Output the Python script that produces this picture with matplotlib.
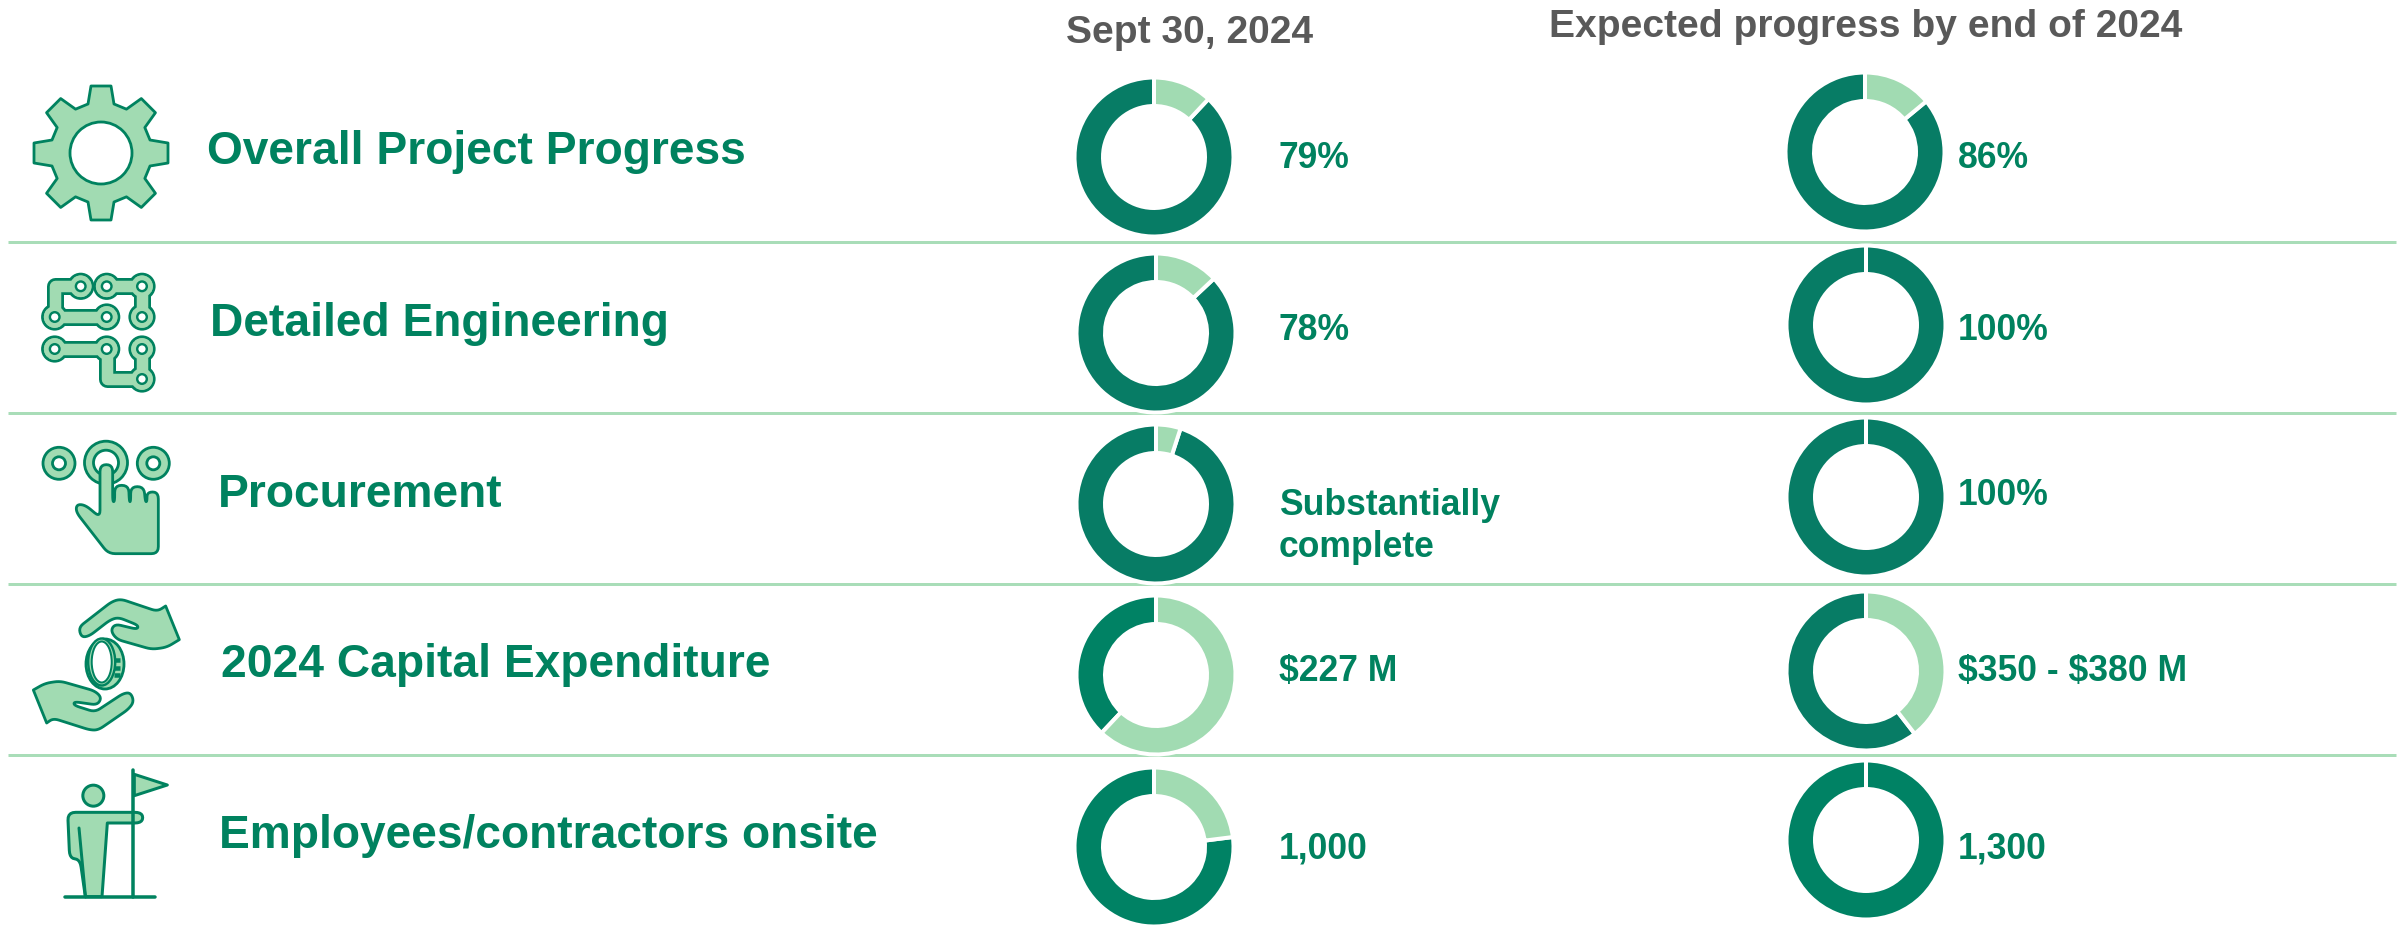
import matplotlib
matplotlib.use("Agg")
import matplotlib.pyplot as plt
import numpy as np
from matplotlib.patches import Circle, Ellipse, Polygon

plt.rcParams["font.family"] = ["Liberation Sans", "DejaVu Sans"]
plt.rcParams["font.weight"] = "bold"

# --- data ---
row_labels = ["Overall Project Progress", "Detailed Engineering", "Procurement",
              "2024 Capital Expenditure", "Employees/contractors onsite"]
col_titles = ["Sept 30, 2024", "Expected progress by end of 2024"]
sept_share = [88, 87, 95, 38, 77]
sept_text = ["79%", "78%", "Substantially\ncomplete", "$227 M", "1,000"]
year_end_share = [86, 100, 100, 60.5, 100]
year_end_text = ["86%", "100%", "100%", "$350 - $380 M", "1,300"]

# --- layout, pixels from the top left ---
W, H = 2405, 925
PX = 0.72  # one pixel in points at dpi 100
sept_xy = [(1154, 157), (1156, 333), (1156, 504), (1156, 675), (1154, 847)]
year_end_xy = [(1865, 152), (1866, 325), (1866, 497), (1866, 671), (1866, 840)]
sept_dark = ["#077C65", "#077C65", "#077C65", "#008264", "#008264"]
year_end_dark = ["#077C65", "#077C65", "#077C65", "#077C65", "#008264"]
label_x = [207, 210, 218, 221, 219]
label_base = [164, 336, 507, 677, 848]
sept_base = [168, 340, 515, 681, 858]
year_end_base = [168, 340, 505, 681, 858]
rule_y = [241.5, 413, 584, 755]

GREEN = "#00825F"
LIGHT = "#A1DBB2"
RULE = "#A9DDB8"
GREY = "#595959"
FS_LABEL = 33.2
FS_VALUE = 25.6
FS_HEAD = 28.1

fig = plt.figure(figsize=(W / 100, H / 100), dpi=100, facecolor="white")

# overlay in image coordinates for rules, text and icons
ax = fig.add_axes([0, 0, 1, 1], zorder=1)
ax.set_xlim(0, W)
ax.set_ylim(H, 0)
ax.axis("off")

for y in rule_y:
    ax.plot([8, 2396], [y, y], color=RULE, lw=3 * PX, solid_capstyle="butt")

# --- doughnuts ---
pie_ax = fig.add_axes([0, 0, 1, 1], zorder=2)
pie_ax.patch.set_alpha(0)


def donut(share, xy, dark):
    pie_ax.pie([share, 100 - share], colors=[dark, LIGHT], startangle=90, counterclock=True,
               center=(xy[0], H - xy[1]), radius=79.5, normalize=True,
               wedgeprops=dict(width=28.5, edgecolor="white", linewidth=4 * PX))


for i in range(5):
    donut(sept_share[i], sept_xy[i], sept_dark[i])
    donut(year_end_share[i], year_end_xy[i], year_end_dark[i])
pie_ax.set_xlim(0, W)
pie_ax.set_ylim(0, H)
pie_ax.set_aspect("auto")
pie_ax.axis("off")

# --- text ---
ax.text(1066, 43, col_titles[0], color=GREY, fontsize=FS_HEAD, va="baseline")
ax.text(1549, 37, col_titles[1], color=GREY, fontsize=FS_HEAD, va="baseline")
for i, name in enumerate(row_labels):
    ax.text(label_x[i], label_base[i], name, color=GREEN, fontsize=FS_LABEL, va="baseline")
    lines = sept_text[i].split("\n")
    for k, line in enumerate(lines):
        ax.text(1279, sept_base[i] + 42 * k, line, color=GREEN, fontsize=FS_VALUE,
                va="baseline", parse_math=False)
    ax.text(1958, year_end_base[i], year_end_text[i], color=GREEN, fontsize=FS_VALUE,
            va="baseline", parse_math=False)


# --- icons ---
def rounded(pts, r=15, steps=6):
    # cut every corner with a curve, a repeated point stays sharp
    pts = np.asarray(pts, float)
    out = []
    for i in range(len(pts)):
        p0, p1, p2 = pts[i - 1], pts[i], pts[(i + 1) % len(pts)]
        l0, l2 = np.linalg.norm(p0 - p1), np.linalg.norm(p2 - p1)
        if l0 == 0 or l2 == 0:
            out.append(p1)
            continue
        a = p1 + (p0 - p1) * min(r, l0 / 2) / l0
        b = p1 + (p2 - p1) * min(r, l2 / 2) / l2
        for t in np.linspace(0, 1, steps):
            out.append((1 - t) ** 2 * a + 2 * t * (1 - t) * p1 + t ** 2 * b)
    return np.array(out)


def shape(pts, lw=2.8, z=3):
    ax.add_patch(Polygon(pts, closed=True, fc=LIGHT, ec=GREEN, lw=lw * PX, joinstyle="round", zorder=z))


def ring(x, y, r_out, r_in, lw=2.8):
    ax.add_patch(Circle((x, y), r_out, fc=LIGHT, ec=GREEN, lw=lw * PX, zorder=4))
    ax.add_patch(Circle((x, y), r_in, fc="white", ec=GREEN, lw=lw * PX, zorder=5))


def zoomed(pts, oy):
    return np.array(pts, float) / 3 + [0, oy]


# gear
cx, cy = 101, 153
tooth = np.array([(-13, -49), (-10, -67), (10, -67), (13, -49)])
gear = []
for a in np.deg2rad(np.arange(0, 360, 45)):
    rot = np.array([[np.cos(a), -np.sin(a)], [np.sin(a), np.cos(a)]])
    gear.extend(tooth @ rot.T + [cx, cy])
shape(gear)
ax.add_patch(Circle((cx, cy), 31, fc="white", ec=GREEN, lw=2.8 * PX, zorder=4))

# chain links
links = [
    [(80.7, 286.3), (54.7, 286.3), (54.7, 317), (106.7, 317)],
    [(106.7, 286.3), (142, 286.3), (142, 317)],
    [(54.7, 349), (106.7, 349), (106.7, 379), (142, 379), (142, 349)],
]
nodes = [(80.7, 286.3), (54.7, 317), (106.7, 317), (106.7, 286.3), (142, 286.3), (142, 317),
         (54.7, 349), (106.7, 349), (142, 349), (142, 379)]
for x, y in nodes:
    ax.add_patch(Circle((x, y), 12.2, fc=LIGHT, ec=GREEN, lw=2.8 * PX, zorder=3))
for link in links:
    xs, ys = zip(*link)
    ax.plot(xs, ys, color=GREEN, lw=17 * PX, solid_joinstyle="round", zorder=3)
for x, y in nodes:
    ax.add_patch(Circle((x, y), 10.8, fc=LIGHT, ec="none", zorder=4))
for link in links:
    xs, ys = zip(*link)
    ax.plot(xs, ys, color=LIGHT, lw=11.5 * PX, solid_joinstyle="round", zorder=4)
for x, y in nodes:
    ax.add_patch(Circle((x, y), 4.8, fc="white", ec=GREEN, lw=2.4 * PX, zorder=5))

# pointing hand
ring(59, 463.3, 16, 6.5)
ring(153.3, 463.3, 16, 6.5)
ring(106, 462.7, 21.5, 12.5)
hand = [(300, 352), (300, 194), (338, 194), (338, 305), (344, 305), (344, 256), (386, 256), (388, 305),
        (392, 305), (392, 260), (432, 260), (436, 305), (441, 305), (441, 276), (475, 276), (475, 461),
        (325, 461), (228, 336), (230, 313), (256, 315)]
shape(rounded(zoomed(hand, 400), r=7), z=6)

# hands and coin
top_hand = [(236, 682), (335, 605), (362, 597), (472, 634), (497, 618), (497, 618), (538, 719), (538, 719),
            (500, 742), (455, 748), (350, 718), (332, 692), (345, 672), (412, 688), (415, 676), (355, 652),
            (330, 660), (268, 708), (244, 712)]
bottom_hand = [(100, 870), (100, 870), (135, 850), (180, 843), (285, 873), (305, 893), (292, 915), (222, 905),
               (222, 916), (285, 936), (370, 880), (392, 878), (402, 905), (385, 928), (295, 990), (270, 990),
               (160, 955), (140, 969), (140, 969)]
shape(rounded(zoomed(top_hand, 400), r=6))
shape(rounded(zoomed(bottom_hand, 400), r=6))
ax.add_patch(Ellipse((105, 664), 38, 50, fc=LIGHT, ec=GREEN, lw=2.8 * PX, zorder=4))
ax.add_patch(Ellipse((101.7, 662), 27, 47, fc=LIGHT, ec=GREEN, lw=2.4 * PX, zorder=5))
ax.add_patch(Ellipse((101.7, 662), 20, 41, fc="white", ec=GREEN, lw=2 * PX, zorder=6))
for y in (660, 667.5, 675):
    ax.plot([113.5, 119.5], [y, y], color=GREEN, lw=4.5 * PX, solid_capstyle="butt", zorder=6)

# person with flag
ax.add_patch(Circle(zoomed([(280, 1187)], 400)[0], 10.5, fc=LIGHT, ec=GREEN, lw=3 * PX, zorder=4))
body = [(203, 1237), (428, 1237), (428, 1269), (322, 1269), (322, 1269), (306, 1490), (306, 1490),
        (256, 1490), (256, 1490), (240, 1378), (209, 1375)]
shape(rounded(zoomed(body, 400), r=8), lw=3)
flag = zoomed([(403, 1123), (502, 1155), (403, 1187)], 400)
shape(flag, lw=3)
ax.plot([133, 133], [770, 897], color=GREEN, lw=3.5 * PX, solid_capstyle="round", zorder=5)
ax.plot([65, 155], [897, 897], color=GREEN, lw=3.5 * PX, solid_capstyle="round", zorder=5)
ax.plot([79, 85.5], [828, 897], color=GREEN, lw=3 * PX, solid_capstyle="round", zorder=5)

fig.savefig("out.png", dpi=100, facecolor="white")
